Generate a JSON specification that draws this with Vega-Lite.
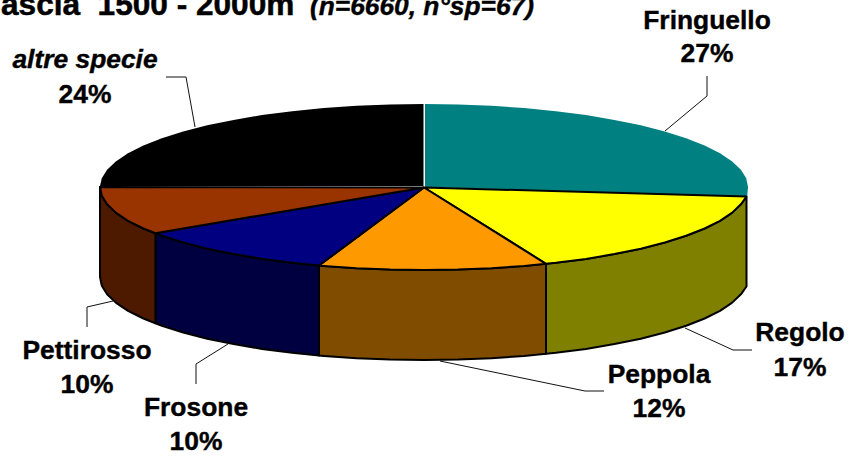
{"$schema":"https://vega.github.io/schema/vega-lite/v6.json","width":858,"height":456,"autosize":{"type":"none"},"padding":0,"background":"white","view":{"stroke":null},"resolve":{"scale":{"fill":"independent"}},
"datasets":{
"piatte":[
{"part":"Fringuello","i":0,"x":425,"y":187},{"part":"Fringuello","i":1,"x":425,"y":104},{"part":"Fringuello","i":2,"x":457.9,"y":104.5},{"part":"Fringuello","i":3,"x":491.4,"y":105.8},{"part":"Fringuello","i":4,"x":524.1,"y":108.1},{"part":"Fringuello","i":5,"x":555.8,"y":111.2},{"part":"Fringuello","i":6,"x":586,"y":115.1},{"part":"Fringuello","i":7,"x":614.4,"y":119.9},{"part":"Fringuello","i":8,"x":640.8,"y":125.3},{"part":"Fringuello","i":9,"x":664.8,"y":131.5},{"part":"Fringuello","i":10,"x":686.1,"y":138.2},{"part":"Fringuello","i":11,"x":704.6,"y":145.5},{"part":"Fringuello","i":12,"x":720,"y":153.2},{"part":"Fringuello","i":13,"x":732.2,"y":161.4},{"part":"Fringuello","i":14,"x":740.9,"y":169.7},{"part":"Fringuello","i":15,"x":746.2,"y":178.3},{"part":"Fringuello","i":16,"x":748,"y":187},{"part":"Fringuello","i":17,"x":747.2,"y":196.5},{"part":"Fringuello","i":18,"x":425,"y":187},
{"part":"altre specie","i":0,"x":423.5,"y":186},{"part":"altre specie","i":1,"x":100,"y":186},{"part":"altre specie","i":2,"x":101.8,"y":178.3},{"part":"altre specie","i":3,"x":107.1,"y":169.7},{"part":"altre specie","i":4,"x":115.8,"y":161.4},{"part":"altre specie","i":5,"x":128,"y":153.2},{"part":"altre specie","i":6,"x":143.4,"y":145.5},{"part":"altre specie","i":7,"x":161.9,"y":138.2},{"part":"altre specie","i":8,"x":183.2,"y":131.5},{"part":"altre specie","i":9,"x":207.2,"y":125.3},{"part":"altre specie","i":10,"x":233.6,"y":119.9},{"part":"altre specie","i":11,"x":262,"y":115.1},{"part":"altre specie","i":12,"x":292.2,"y":111.2},{"part":"altre specie","i":13,"x":323.9,"y":108.1},{"part":"altre specie","i":14,"x":356.6,"y":105.8},{"part":"altre specie","i":15,"x":390.1,"y":104.5},{"part":"altre specie","i":16,"x":423.5,"y":104},{"part":"altre specie","i":17,"x":423.5,"y":186}
],
"bordate":[
{"part":"Regolo lato","i":0,"x":746.5,"y":196.5},{"part":"Regolo lato","i":1,"x":740.9,"y":204.3},{"part":"Regolo lato","i":2,"x":732.2,"y":212.6},{"part":"Regolo lato","i":3,"x":720,"y":220.8},{"part":"Regolo lato","i":4,"x":704.6,"y":228.5},{"part":"Regolo lato","i":5,"x":686.1,"y":235.8},{"part":"Regolo lato","i":6,"x":664.8,"y":242.5},{"part":"Regolo lato","i":7,"x":640.8,"y":248.7},{"part":"Regolo lato","i":8,"x":614.4,"y":254.1},{"part":"Regolo lato","i":9,"x":586,"y":258.9},{"part":"Regolo lato","i":10,"x":555.8,"y":262.8},{"part":"Regolo lato","i":11,"x":546,"y":263.8},{"part":"Regolo lato","i":12,"x":546,"y":353.8},{"part":"Regolo lato","i":13,"x":555.8,"y":352.8},{"part":"Regolo lato","i":14,"x":586,"y":348.9},{"part":"Regolo lato","i":15,"x":614.4,"y":344.1},{"part":"Regolo lato","i":16,"x":640.8,"y":338.7},{"part":"Regolo lato","i":17,"x":664.8,"y":332.5},{"part":"Regolo lato","i":18,"x":686.1,"y":325.8},{"part":"Regolo lato","i":19,"x":704.6,"y":318.5},{"part":"Regolo lato","i":20,"x":720,"y":310.8},{"part":"Regolo lato","i":21,"x":732.2,"y":302.6},{"part":"Regolo lato","i":22,"x":740.9,"y":294.3},{"part":"Regolo lato","i":23,"x":746.5,"y":286.5},{"part":"Regolo lato","i":24,"x":746.5,"y":196.5},
{"part":"Peppola lato","i":0,"x":546,"y":263.8},{"part":"Peppola lato","i":1,"x":524.1,"y":265.9},{"part":"Peppola lato","i":2,"x":491.4,"y":268.2},{"part":"Peppola lato","i":3,"x":457.9,"y":269.5},{"part":"Peppola lato","i":4,"x":424,"y":270},{"part":"Peppola lato","i":5,"x":390.1,"y":269.5},{"part":"Peppola lato","i":6,"x":356.6,"y":268.2},{"part":"Peppola lato","i":7,"x":323.9,"y":265.9},{"part":"Peppola lato","i":8,"x":319,"y":265.5},{"part":"Peppola lato","i":9,"x":319,"y":355.5},{"part":"Peppola lato","i":10,"x":323.9,"y":355.9},{"part":"Peppola lato","i":11,"x":356.6,"y":358.2},{"part":"Peppola lato","i":12,"x":390.1,"y":359.5},{"part":"Peppola lato","i":13,"x":424,"y":360},{"part":"Peppola lato","i":14,"x":457.9,"y":359.5},{"part":"Peppola lato","i":15,"x":491.4,"y":358.2},{"part":"Peppola lato","i":16,"x":524.1,"y":355.9},{"part":"Peppola lato","i":17,"x":546,"y":353.8},{"part":"Peppola lato","i":18,"x":546,"y":263.8},
{"part":"Frosone lato","i":0,"x":319,"y":265.5},{"part":"Frosone lato","i":1,"x":292.2,"y":262.8},{"part":"Frosone lato","i":2,"x":262,"y":258.9},{"part":"Frosone lato","i":3,"x":233.6,"y":254.1},{"part":"Frosone lato","i":4,"x":207.2,"y":248.7},{"part":"Frosone lato","i":5,"x":183.2,"y":242.5},{"part":"Frosone lato","i":6,"x":161.9,"y":235.8},{"part":"Frosone lato","i":7,"x":155.4,"y":233.2},{"part":"Frosone lato","i":8,"x":155.4,"y":323.2},{"part":"Frosone lato","i":9,"x":161.9,"y":325.8},{"part":"Frosone lato","i":10,"x":183.2,"y":332.5},{"part":"Frosone lato","i":11,"x":207.2,"y":338.7},{"part":"Frosone lato","i":12,"x":233.6,"y":344.1},{"part":"Frosone lato","i":13,"x":262,"y":348.9},{"part":"Frosone lato","i":14,"x":292.2,"y":352.8},{"part":"Frosone lato","i":15,"x":319,"y":355.5},{"part":"Frosone lato","i":16,"x":319,"y":265.5},
{"part":"Pettirosso lato","i":0,"x":155.4,"y":233.2},{"part":"Pettirosso lato","i":1,"x":143.4,"y":228.5},{"part":"Pettirosso lato","i":2,"x":128,"y":220.8},{"part":"Pettirosso lato","i":3,"x":115.8,"y":212.6},{"part":"Pettirosso lato","i":4,"x":107.1,"y":204.3},{"part":"Pettirosso lato","i":5,"x":101.8,"y":195.7},{"part":"Pettirosso lato","i":6,"x":100,"y":187},{"part":"Pettirosso lato","i":7,"x":100,"y":277},{"part":"Pettirosso lato","i":8,"x":101.8,"y":285.7},{"part":"Pettirosso lato","i":9,"x":107.1,"y":294.3},{"part":"Pettirosso lato","i":10,"x":115.8,"y":302.6},{"part":"Pettirosso lato","i":11,"x":128,"y":310.8},{"part":"Pettirosso lato","i":12,"x":143.4,"y":318.5},{"part":"Pettirosso lato","i":13,"x":155.4,"y":323.2},{"part":"Pettirosso lato","i":14,"x":155.4,"y":233.2},
{"part":"Regolo","i":0,"x":424,"y":187.5},{"part":"Regolo","i":1,"x":746.5,"y":196.5},{"part":"Regolo","i":2,"x":740.9,"y":204.3},{"part":"Regolo","i":3,"x":732.2,"y":212.6},{"part":"Regolo","i":4,"x":720,"y":220.8},{"part":"Regolo","i":5,"x":704.6,"y":228.5},{"part":"Regolo","i":6,"x":686.1,"y":235.8},{"part":"Regolo","i":7,"x":664.8,"y":242.5},{"part":"Regolo","i":8,"x":640.8,"y":248.7},{"part":"Regolo","i":9,"x":614.4,"y":254.1},{"part":"Regolo","i":10,"x":586,"y":258.9},{"part":"Regolo","i":11,"x":555.8,"y":262.8},{"part":"Regolo","i":12,"x":546,"y":263.8},{"part":"Regolo","i":13,"x":424,"y":187.5},
{"part":"Peppola","i":0,"x":424,"y":187.5},{"part":"Peppola","i":1,"x":546,"y":263.8},{"part":"Peppola","i":2,"x":524.1,"y":265.9},{"part":"Peppola","i":3,"x":491.4,"y":268.2},{"part":"Peppola","i":4,"x":457.9,"y":269.5},{"part":"Peppola","i":5,"x":424,"y":270},{"part":"Peppola","i":6,"x":390.1,"y":269.5},{"part":"Peppola","i":7,"x":356.6,"y":268.2},{"part":"Peppola","i":8,"x":323.9,"y":265.9},{"part":"Peppola","i":9,"x":319,"y":265.5},{"part":"Peppola","i":10,"x":424,"y":187.5},
{"part":"Frosone","i":0,"x":424,"y":187.5},{"part":"Frosone","i":1,"x":319,"y":265.5},{"part":"Frosone","i":2,"x":292.2,"y":262.8},{"part":"Frosone","i":3,"x":262,"y":258.9},{"part":"Frosone","i":4,"x":233.6,"y":254.1},{"part":"Frosone","i":5,"x":207.2,"y":248.7},{"part":"Frosone","i":6,"x":183.2,"y":242.5},{"part":"Frosone","i":7,"x":161.9,"y":235.8},{"part":"Frosone","i":8,"x":155.4,"y":233.2},{"part":"Frosone","i":9,"x":424,"y":187.5},
{"part":"Pettirosso","i":0,"x":424,"y":187.5},{"part":"Pettirosso","i":1,"x":155.4,"y":233.2},{"part":"Pettirosso","i":2,"x":143.4,"y":228.5},{"part":"Pettirosso","i":3,"x":128,"y":220.8},{"part":"Pettirosso","i":4,"x":115.8,"y":212.6},{"part":"Pettirosso","i":5,"x":107.1,"y":204.3},{"part":"Pettirosso","i":6,"x":101.8,"y":195.7},{"part":"Pettirosso","i":7,"x":100,"y":187},{"part":"Pettirosso","i":8,"x":424,"y":187.5}
],
"guide":[
{"specie":"Fringuello","i":0,"x":707,"y":76},{"specie":"Fringuello","i":1,"x":707,"y":96},{"specie":"Fringuello","i":2,"x":665,"y":131},
{"specie":"altre specie","i":0,"x":166,"y":77},{"specie":"altre specie","i":1,"x":186,"y":77},{"specie":"altre specie","i":2,"x":195,"y":127},
{"specie":"Regolo","i":0,"x":685,"y":328},{"specie":"Regolo","i":1,"x":733,"y":350},{"specie":"Regolo","i":2,"x":752,"y":350},
{"specie":"Peppola","i":0,"x":440,"y":361},{"specie":"Peppola","i":1,"x":585,"y":391},{"specie":"Peppola","i":2,"x":604,"y":391},
{"specie":"Frosone","i":0,"x":228,"y":344},{"specie":"Frosone","i":1,"x":196,"y":364},{"specie":"Frosone","i":2,"x":196,"y":384},
{"specie":"Pettirosso","i":0,"x":113,"y":301},{"specie":"Pettirosso","i":1,"x":87,"y":307},{"specie":"Pettirosso","i":2,"x":87,"y":327}
]},
"encoding":{"x":{"field":"x","type":"quantitative","axis":null,"scale":{"domain":[0,858],"nice":false,"zero":false}},"y":{"field":"y","type":"quantitative","axis":null,"scale":{"domain":[456,0],"nice":false,"zero":false}}},
"layer":[
{"data":{"name":"guide"},"mark":{"type":"line","stroke":"#111111","strokeWidth":1},"encoding":{"detail":{"field":"specie"},"order":{"field":"i","type":"quantitative"}}},
{"data":{"name":"piatte"},"mark":{"type":"line","stroke":null},"encoding":{"fill":{"field":"part","type":"nominal","legend":null,"scale":{"domain":["Fringuello","altre specie"],"range":["#008080","#000000"]}},"order":{"field":"i","type":"quantitative"}}},
{"data":{"name":"bordate"},"mark":{"type":"line","stroke":"#000000","strokeWidth":2,"strokeJoin":"round"},"encoding":{"fill":{"field":"part","type":"nominal","legend":null,"scale":{"domain":["Regolo lato","Peppola lato","Frosone lato","Pettirosso lato","Regolo","Peppola","Frosone","Pettirosso"],"range":["#808000","#804D00","#000040","#4D1A00","#FFFF00","#FF9900","#000080","#993300"]}},"order":{"field":"i","type":"quantitative"}}},
{"data":{"values":[{"t":"ascia\u00a0\u00a01500 - 2000m","x":1,"y":15}]},"mark":{"type":"text","font":"Liberation Sans","fontWeight":"bold","fontSize":31.6,"align":"left","baseline":"alphabetic","color":"#000000","stroke":"#000000","strokeWidth":0.5},"encoding":{"text":{"field":"t"}}},
{"data":{"values":[{"t":"(n=6660, n°sp=67)","x":310,"y":15}]},"mark":{"type":"text","font":"Liberation Sans","fontWeight":"bold","fontStyle":"italic","fontSize":26.3,"align":"left","baseline":"alphabetic","color":"#000000","stroke":"#000000","strokeWidth":0.4},"encoding":{"text":{"field":"t"}}},
{"data":{"values":[{"t":"altre specie","x":85,"y":68}]},"mark":{"type":"text","font":"Liberation Sans","fontWeight":"bold","fontStyle":"italic","fontSize":26.4,"align":"center","baseline":"alphabetic","color":"#000000","stroke":"#000000","strokeWidth":0.4},"encoding":{"text":{"field":"t"}}},
{"data":{"values":[{"t":"24%","x":85,"y":103},{"t":"Fringuello","x":707,"y":29},{"t":"27%","x":707,"y":62},{"t":"Regolo","x":800,"y":341},{"t":"17%","x":800,"y":376},{"t":"Peppola","x":659,"y":383},{"t":"12%","x":659,"y":417},{"t":"Frosone","x":196,"y":416},{"t":"10%","x":196,"y":450},{"t":"Pettirosso","x":87,"y":359},{"t":"10%","x":87,"y":393}]},"mark":{"type":"text","font":"Liberation Sans","fontWeight":"bold","fontSize":26.4,"align":"center","baseline":"alphabetic","color":"#000000","stroke":"#000000","strokeWidth":0.4},"encoding":{"text":{"field":"t"}}}
]}
